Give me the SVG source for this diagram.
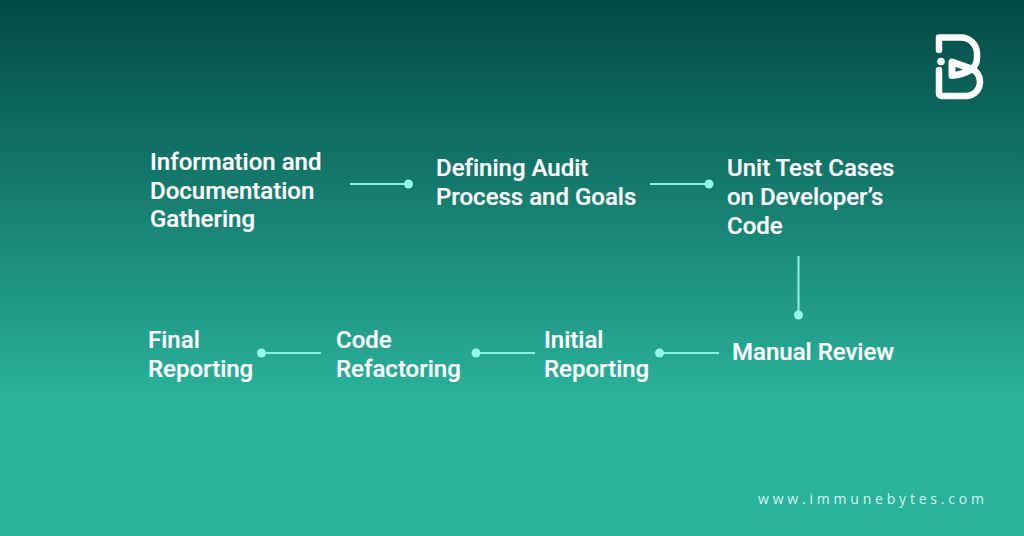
<svg xmlns="http://www.w3.org/2000/svg" width="1024" height="536" viewBox="0 0 1024 536">
<style>
.t{font-family:Roboto,"Liberation Sans",sans-serif;font-weight:500;font-size:24px;fill:#fff;font-variant-ligatures:none;stroke:#fff;stroke-width:.2px}
.l{stroke:#8ef0e4;stroke-width:2;fill:none}
.d{fill:#93f7ee}
.u{font-family:"Open Sans","Liberation Sans",sans-serif;font-size:14px;letter-spacing:3.8px;fill:#d8f3ee}
</style>
<defs><linearGradient id="bg" x1="0" y1="0" x2="0" y2="1">
<stop offset="0" stop-color="#024a45"/><stop offset="0.75" stop-color="#2ab39b"/><stop offset="1" stop-color="#2ab39b"/>
</linearGradient></defs>
<rect width="1024" height="536" fill="url(#bg)"/>
<g id="logo" fill="none" stroke="#fff" stroke-width="6.500" stroke-linecap="round" stroke-linejoin="round">
<path d="M939 50V37.500H961a16 16 0 0 1 16 16V58Q977 64 972 69Q980 73 980 82a14 14 0 0 1-14 14H941.500a2.500 2.500 0 0 1-2.500-2.500V70"/>
<path d="M952 62L972 69Q962 75 952 75.500Z" stroke-width="7"/>
<circle cx="941" cy="61.500" r="3.800" fill="#fff" stroke="none"/>
</g>
<g id="connectors">
<path class="l" d="M350 184H408M650 184H708M798.500 256V314M719 353H660M535 353H476M321 353H262"/>
<circle class="d" cx="408.500" cy="184" r="4.500"/><circle class="d" cx="709" cy="184" r="4.500"/><circle class="d" cx="798.500" cy="315" r="4.500"/><circle class="d" cx="659.500" cy="353" r="4.500"/><circle class="d" cx="476" cy="353" r="4.500"/><circle class="d" cx="261.500" cy="353" r="4.500"/>
</g>
<g id="node1"><text class="t" x="150" y="170">Information and</text><text class="t" x="150" y="199">Documentation</text><text class="t" x="150" y="227">Gathering</text></g>
<g id="node2"><text class="t" x="436" y="176">Defining Audit</text><text class="t" x="436" y="205">Process and Goals</text></g>
<g id="node3"><text class="t" x="727" y="176">Unit Test Cases</text><text class="t" x="727" y="205">on Developer’s</text><text class="t" x="727" y="234">Code</text></g>
<g id="node4"><text class="t" x="732" y="360">Manual Review</text></g>
<g id="node5"><text class="t" x="544" y="348">Initial</text><text class="t" x="544" y="377">Reporting</text></g>
<g id="node6"><text class="t" x="336" y="348">Code</text><text class="t" x="336" y="377">Refactoring</text></g>
<g id="node7"><text class="t" x="148" y="348">Final</text><text class="t" x="148" y="377">Reporting</text></g>
<text class="u" x="758" y="504">www.immunebytes.com</text>
</svg>
